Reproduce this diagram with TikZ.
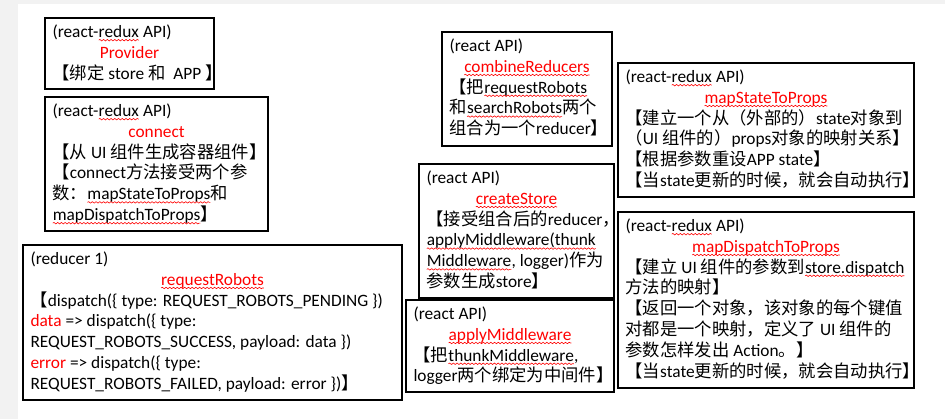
\documentclass[tikz,border=0pt]{standalone}
\usepackage{fontspec}
\setmainfont{Carlito}
\newfontfamily\zhfont{Noto Sans CJK SC}[Scale=1.0]
\usetikzlibrary{decorations.pathmorphing}
\newcommand\zh[1]{{\zhfont #1}}
\tikzset{
  box/.style={draw=black,line width=0.8pt,anchor=north west,inner sep=0pt,outer sep=0pt,fill=white},
  ln/.style={anchor=base west,inner sep=0pt,outer sep=0pt,font=\fontsize{13pt}{15pt}\selectfont},
  ttl/.style={ln,anchor=base,text=red},
  sqline/.style={red,line width=0.45pt,decorate,decoration={snake,amplitude=0.55pt,segment length=2.8pt}},
}
\newcommand\sq[1]{\tikz[baseline=(sqw.base)]{\node[inner sep=0pt,outer sep=0pt,anchor=base west] (sqw) at (0,0) {#1};\draw[sqline] ([yshift=-2pt]sqw.base west) -- ([yshift=-2pt]sqw.base east);}}
\begin{document}
\begin{tikzpicture}[x=0.75pt,y=-0.75pt]
\useasboundingbox (0,0) rectangle (945,419);
\fill[gray!10] (0,0) rectangle (945,419);
\fill[white] (18,4) rectangle (945,419);

% Provider
\node[box,minimum width=126.75pt,minimum height=53.25pt] (bP) at (45,18) {};
\node[ln] (p1) at (52.5,37.5) {(react-\sq{redux} API)};
\node[ttl] (p2) at (129.5,58.3) {Provider};
\node[ln] (p3) at (52.5,79.1) {\zh{【绑定} store \zh{和}\ \ APP \zh{】}};

% connect
\node[box,minimum width=167.25pt,minimum height=100.5pt] (bC) at (45,97) {};
\node[ln] (c1) at (52.5,116.5) {(react-\sq{redux} API)};
\node[ttl] (c2) at (156.5,137.3) {connect};
\node[ln] (c3) at (52.5,158.1) {\zh{【从} UI \zh{组件生成容器组件】}};
\node[ln] (c4) at (52.5,178.9) {\zh{【}connect\zh{方法接受两个参}};
\node[ln] (c5) at (52.5,199.7) {\zh{数：}\sq{mapStateToProps}\zh{和}};
\node[ln] (c6) at (52.5,220.5) {\sq{mapDispatchToProps}\zh{】}};

% reducer 1
\node[box,minimum width=284.25pt,minimum height=116.25pt] (bR) at (23,245) {};
\node[ln] (r1) at (30.5,264.5) {(reducer 1)};
\node[ttl] (r2) at (212.5,285.3) {\sq{requestRobots}};
\node[ln] (r3) at (30.5,306.1) {\zh{【}dispatch(\{ type: REQUEST\_ROBOTS\_PENDING \})};
\node[ln] (r4) at (30.5,326.9) {\textcolor{red}{data} => dispatch(\{ type:};
\node[ln] (r5) at (30.5,347.7) {REQUEST\_ROBOTS\_SUCCESS, payload: data \})};
\node[ln] (r6) at (30.5,368.5) {\textcolor{red}{error} => dispatch(\{ type:};
\node[ln] (r7) at (30.5,389.3) {REQUEST\_ROBOTS\_FAILED, payload: error \})\zh{】}};

% combineReducers
\node[box,minimum width=127.5pt,minimum height=85.5pt] (bCR) at (442,32) {};
\node[ln] (k1) at (449.5,51.5) {(react API)};
\node[ttl] (k2) at (527,72.3) {\sq{combineReducers}};
\node[ln] (k3) at (449.5,93.1) {\zh{【把}\sq{requestRobots}};
\node[ln] (k4) at (449.5,113.9) {\zh{和}\sq{searchRobots}\zh{两个}};
\node[ln] (k5) at (449.5,134.7) {\zh{组合为一个}reducer\zh{】}};

% createStore
\node[box,minimum width=146.25pt,minimum height=100.5pt] (bCS) at (419,164) {};
\node[ln] (s1) at (426.5,183.5) {(react API)};
\node[ttl] (s2) at (516.5,204.3) {\sq{createStore}};
\node[ln] (s3) at (426.5,225.1) {\zh{【接受组合后的}reducer\zh{，}};
\node[ln] (s4) at (426.5,245.9) {\sq{applyMiddleware(thunk}};
\node[ln] (s5) at (426.5,266.7) {\sq{Middleware}, logger)\zh{作为}};
\node[ln] (s6) at (426.5,287.5) {\zh{参数生成}store\zh{】}};

% applyMiddleware
\node[box,minimum width=156pt,minimum height=69pt] (bAM) at (406,300) {};
\node[ln] (a1) at (413.5,319.5) {(react API)};
\node[ttl] (a2) at (510,340.3) {\sq{applyMiddleware}};
\node[ln] (a3) at (413.5,361.1) {\zh{【把}\sq{thunkMiddleware},};
\node[ln] (a4) at (413.5,381.9) {logger\zh{两个绑定为中间件】}};

% mapStateToProps
\node[box,minimum width=222pt,minimum height=100.5pt] (bMS) at (618,63) {};
\node[ln] (m1) at (625.5,82.5) {(react-\sq{redux} API)};
\node[ttl] (m2) at (766,103.3) {\sq{mapStateToProps}};
\node[ln] (m3) at (625.5,124.1) {\zh{【建立一个从（外部的）}state\zh{对象到}};
\node[ln] (m4) at (625.5,144.9) {\zh{（}UI \zh{组件的）}props\zh{对象的映射关系】}};
\node[ln] (m5) at (625.5,165.7) {\zh{【根据参数重设}APP state\zh{】}};
\node[ln] (m6) at (625.5,186.5) {\zh{【当}state\zh{更新的时候，就会自动执行】}};

% mapDispatchToProps
\node[box,minimum width=222pt,minimum height=132pt] (bMD) at (618,212) {};
\node[ln] (d1) at (625.5,231.5) {(react-\sq{redux} API)};
\node[ttl] (d2) at (766,252.3) {\sq{mapDispatchToProps}};
\node[ln] (d3) at (625.5,273.1) {\zh{【建立} UI \zh{组件的参数到}\sq{store.dispatch}};
\node[ln] (d4) at (625.5,293.9) {\zh{方法的映射】}};
\node[ln] (d5) at (625.5,314.7) {\zh{【返回一个对象，该对象的每个键值}};
\node[ln] (d6) at (625.5,335.5) {\zh{对都是一个映射，定义了} UI \zh{组件的}};
\node[ln] (d7) at (625.5,356.3) {\zh{参数怎样发出} Action\zh{。】}};
\node[ln] (d8) at (625.5,377.1) {\zh{【当}state\zh{更新的时候，就会自动执行】}};
\end{tikzpicture}
\end{document}
